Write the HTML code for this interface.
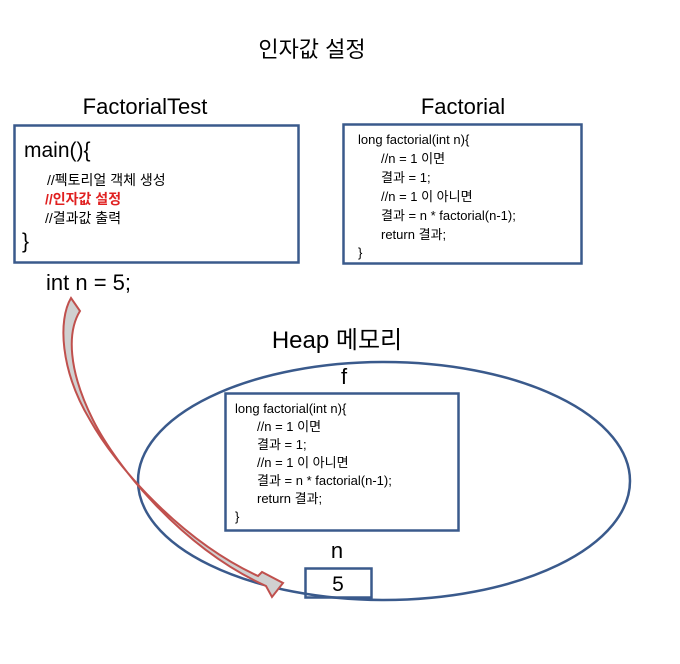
<!DOCTYPE html>
<html><head><meta charset="utf-8"><style>
html,body{margin:0;padding:0;background:#fff;}
svg{display:block;}
text{font-family:"Liberation Sans","Noto Sans CJK KR",sans-serif;fill:#000;}
</style></head><body>
<svg width="680" height="664" viewBox="0 0 680 664" xmlns="http://www.w3.org/2000/svg">
<text x="312" y="57" font-size="22" text-anchor="middle">인자값 설정</text>
<text x="145" y="114" font-size="22" text-anchor="middle">FactorialTest</text>
<text x="463" y="114" font-size="22" text-anchor="middle">Factorial</text>
<rect x="14.5" y="125.5" width="284" height="137" fill="none" stroke="#3a5a8c" stroke-width="2.5"/>
<text x="24" y="157" font-size="21">main(){</text>
<text x="47" y="185" font-size="14">//펙토리얼 객체 생성</text>
<text x="45" y="204" font-size="14" font-weight="bold" style="fill:#e02020">//인자값 설정</text>
<text x="45" y="223" font-size="14">//결과값 출력</text>
<text x="22" y="248" font-size="21">}</text>
<rect x="343.5" y="124.5" width="238" height="139" fill="none" stroke="#3a5a8c" stroke-width="2.5"/>
<g font-size="13">
<text x="358" y="144">long factorial(int n){</text>
<text x="381" y="163">//n = 1 이면</text>
<text x="381" y="182">결과 = 1;</text>
<text x="381" y="201">//n = 1 이 아니면</text>
<text x="381" y="220">결과 = n * factorial(n-1);</text>
<text x="381" y="239">return 결과;</text>
<text x="358" y="257">}</text>
</g>
<text x="46" y="290" font-size="22">int n =  5;</text>
<text x="337" y="348" font-size="24" text-anchor="middle">Heap 메모리</text>
<ellipse cx="384" cy="481" rx="246" ry="119" fill="none" stroke="#3a5a8c" stroke-width="2.5"/>
<text x="344" y="384" font-size="22" text-anchor="middle">f</text>
<rect x="225.5" y="393.5" width="233" height="137" fill="none" stroke="#3a5a8c" stroke-width="2.5"/>
<g font-size="13">
<text x="235" y="413">long factorial(int n){</text>
<text x="257" y="431">//n = 1 이면</text>
<text x="257" y="449">결과 = 1;</text>
<text x="257" y="467">//n = 1 이 아니면</text>
<text x="257" y="485">결과 = n * factorial(n-1);</text>
<text x="257" y="503">return 결과;</text>
<text x="235" y="521">}</text>
</g>
<text x="337" y="558" font-size="22" text-anchor="middle">n</text>
<rect x="305.5" y="568.5" width="66" height="29" fill="none" stroke="#3a5a8c" stroke-width="2.5"/>
<text x="338" y="591" font-size="21" text-anchor="middle">5</text>
<path d="M71,298 C58,320 60,370 90,420 C115,465 180,540 258,576 L262,572 L283,583 L272,597 L266,586 C182,548 116,466 93,420 C68,370 67,332 80,311 Z" fill="#d0d0d0" stroke="#c0504d" stroke-width="2" stroke-linejoin="miter"/>
</svg>
</body></html>
